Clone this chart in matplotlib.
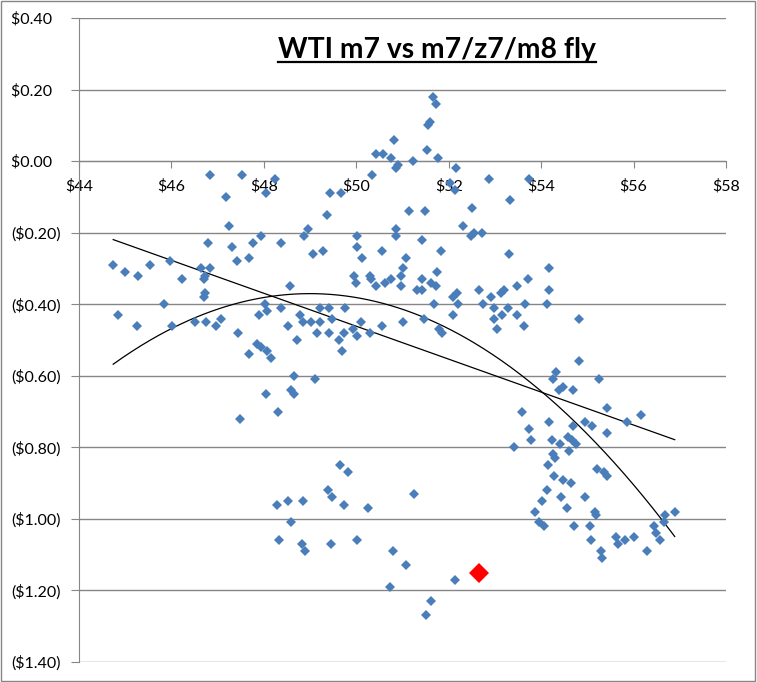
import numpy as np
import matplotlib
matplotlib.use('Agg')
import matplotlib.pyplot as plt
from matplotlib.ticker import FuncFormatter, MultipleLocator
from matplotlib.lines import Line2D
from matplotlib.patches import Rectangle

# WTI m7 price vs m7/z7/m8 butterfly
price = [46.84, 47.53, 48.25, 48.05, 47.19, 47.25, 46.80, 47.30, 47.76, 47.94,
         48.37, 47.41, 47.68, 44.74, 45.00, 45.27, 45.53, 45.97, 46.22, 46.65,
         46.84, 46.73, 46.70, 46.73, 46.70, 48.56, 45.84, 44.85, 45.26, 46.02,
         46.52, 46.75, 46.96, 47.08, 47.43, 47.90, 48.02, 48.07, 48.37, 48.52,
         47.85, 47.93, 48.07, 47.67, 48.16, 48.65, 48.05, 48.58, 48.65, 49.10,
         51.65, 51.73, 51.60, 51.55, 50.82, 51.52, 50.42, 50.57, 50.75, 51.77,
         50.90, 50.86, 51.23, 52.16, 50.33, 52.88, 49.43, 49.68, 52.03, 52.13,
         53.33, 49.37, 51.13, 51.49, 52.50, 52.31, 48.96, 48.87, 50.01, 50.86,
         50.86, 52.48, 52.54, 52.71, 49.27, 49.07, 50.01, 50.12, 50.56, 51.08,
         51.43, 51.84, 53.31, 49.95, 49.99, 50.30, 50.32, 50.43, 50.62, 50.75,
         50.97, 51.02, 50.97, 51.42, 51.31, 51.43, 51.61, 51.74, 51.72, 51.69,
         52.10, 52.17, 52.21, 52.10, 52.66, 52.75, 52.92, 53.13, 53.20, 52.97,
         52.99, 53.15, 53.04, 53.28, 48.78, 48.84, 49.01, 49.21, 49.14, 49.41,
         49.21, 49.42, 49.48, 49.75, 49.63, 49.70, 49.73, 49.92, 50.02, 50.10,
         50.30, 50.56, 51.02, 51.47, 51.79, 51.85, 48.71, 53.73, 54.16, 53.48,
         53.72, 54.18, 53.65, 53.48, 53.62, 54.12, 54.82, 54.82, 54.33, 54.26,
         55.26, 54.47, 54.69, 54.38, 53.59, 55.42, 56.15, 54.18, 54.95, 55.10,
         54.68, 55.85, 53.73, 55.42, 53.77, 54.24, 54.40, 54.58, 54.67, 54.76,
         54.61, 53.42, 54.25, 54.29, 54.15, 55.20, 55.37, 55.42, 54.27, 54.48,
         54.65, 54.12, 54.43, 54.95, 54.02, 54.55, 53.87, 55.17, 55.19, 53.96,
         54.06, 54.72, 55.06, 55.08, 55.61, 55.66, 55.82, 56.00, 55.29, 55.32,
         56.30, 56.44, 56.48, 56.57, 56.67, 56.65, 56.89, 48.30, 47.48, 48.29,
         48.52, 48.58, 48.32, 49.64, 49.81, 49.39, 49.47, 49.73, 50.25, 51.25,
         48.84, 48.82, 48.90, 49.45, 50.02, 50.80, 51.08, 50.73, 52.13, 51.62,
         51.51]
fly = [-0.04, -0.04, -0.05, -0.09, -0.10, -0.18, -0.23, -0.24, -0.23, -0.21,
       -0.23, -0.28, -0.27, -0.29, -0.31, -0.32, -0.29, -0.28, -0.33, -0.30,
       -0.30, -0.32, -0.33, -0.37, -0.38, -0.35, -0.40, -0.43, -0.46, -0.46,
       -0.45, -0.45, -0.46, -0.44, -0.48, -0.43, -0.40, -0.42, -0.41, -0.46,
       -0.51, -0.52, -0.53, -0.54, -0.55, -0.60, -0.65, -0.64, -0.65, -0.61,
       0.18, 0.16, 0.11, 0.10, 0.06, 0.03, 0.02, 0.02, 0.01, 0.01,
       -0.01, -0.02, 0.00, -0.02, -0.04, -0.05, -0.09, -0.09, -0.06, -0.08,
       -0.11, -0.15, -0.14, -0.14, -0.13, -0.18, -0.19, -0.21, -0.21, -0.19,
       -0.21, -0.21, -0.20, -0.20, -0.25, -0.26, -0.24, -0.27, -0.25, -0.27,
       -0.22, -0.25, -0.26, -0.32, -0.34, -0.32, -0.33, -0.35, -0.34, -0.33,
       -0.32, -0.30, -0.35, -0.33, -0.36, -0.36, -0.34, -0.31, -0.35, -0.40,
       -0.38, -0.37, -0.40, -0.43, -0.36, -0.40, -0.38, -0.37, -0.36, -0.41,
       -0.44, -0.43, -0.47, -0.41, -0.43, -0.45, -0.45, -0.45, -0.48, -0.48,
       -0.41, -0.41, -0.44, -0.41, -0.50, -0.53, -0.48, -0.47, -0.49, -0.45,
       -0.48, -0.46, -0.45, -0.44, -0.47, -0.48, -0.50, -0.05, -0.30, -0.35,
       -0.33, -0.36, -0.40, -0.43, -0.46, -0.40, -0.44, -0.56, -0.59, -0.61,
       -0.61, -0.63, -0.64, -0.64, -0.70, -0.69, -0.71, -0.73, -0.73, -0.74,
       -0.74, -0.73, -0.75, -0.76, -0.78, -0.78, -0.79, -0.77, -0.78, -0.79,
       -0.81, -0.80, -0.82, -0.83, -0.85, -0.86, -0.87, -0.88, -0.88, -0.89,
       -0.90, -0.92, -0.94, -0.94, -0.95, -0.97, -0.98, -0.98, -0.99, -1.01,
       -1.02, -1.02, -1.02, -1.06, -1.05, -1.07, -1.06, -1.05, -1.09, -1.11,
       -1.09, -1.02, -1.04, -1.06, -0.99, -1.01, -0.98, -0.70, -0.72, -0.96,
       -0.95, -1.01, -1.06, -0.85, -0.87, -0.92, -0.94, -0.96, -0.97, -0.93,
       -0.95, -1.07, -1.09, -1.07, -1.06, -1.09, -1.13, -1.19, -1.17, -1.23,
       -1.27]

# latest observation, highlighted
last_price = [52.65]
last_fly = [-1.15]

plt.rcParams['font.family'] = ['Lato', 'DejaVu Sans']

grey = '#868686'

fig = plt.figure(figsize=(7.57, 6.82), dpi=100)
ax = fig.add_axes([79/757, 1 - 662/682, (726 - 79)/757, (662 - 18)/682])

ax.plot(price, fly, 'D', color='#4a7ebb', markersize=5.6, markeredgewidth=0, zorder=3)
ax.plot(last_price, last_fly, 'D', color='#ff0000', markersize=10.5, markeredgewidth=0, zorder=4)

# trendlines (linear and 2nd order poly, like Excel)
xs = np.linspace(min(price), max(price), 300)
lin = np.polyfit(price, fly, 1)
quad = np.polyfit(price, fly, 2)
ax.plot(xs, np.polyval(lin, xs), color='black', linewidth=0.9, zorder=2)
ax.plot(xs, np.polyval(quad, xs), color='black', linewidth=0.9, zorder=2)

ax.set_xlim(44, 58)
ax.set_ylim(-1.4, 0.4)
ax.xaxis.set_major_locator(MultipleLocator(2))
ax.yaxis.set_major_locator(MultipleLocator(0.2))


def money(v, pos):
    if v < -1e-9:
        return '(${:.2f})'.format(-v)
    return '${:.2f}\u2007'.format(abs(v))


ax.yaxis.set_major_formatter(FuncFormatter(money))
ax.xaxis.set_major_formatter(FuncFormatter(lambda v, p: '${:.0f}'.format(v)))

ax.spines['bottom'].set_position(('data', 0))
ax.spines['top'].set_visible(False)
ax.spines['right'].set_visible(False)
ax.spines['left'].set_color(grey)
ax.spines['bottom'].set_color(grey)
ax.tick_params(axis='y', direction='out', length=6, color=grey, labelsize=11.5, pad=7)
ax.tick_params(axis='x', direction='out', length=5, color=grey, labelsize=11.5, pad=8)
ax.grid(axis='y', color=grey, linewidth=1)
ax.set_axisbelow(True)

title = fig.text(437/757, 1 - 50/682, 'WTI m7 vs m7/z7/m8 fly', ha='center', va='center',
                 fontsize=20.3, fontweight='bold')
fig.canvas.draw()
bb = title.get_window_extent().transformed(fig.transFigure.inverted())
fig.add_artist(Line2D([bb.x0, bb.x1], [bb.y0 + 0.002, bb.y0 + 0.002], color='black',
                      linewidth=1.6, transform=fig.transFigure))

fig.add_artist(Rectangle((0.001, 0.001), 0.997, 0.997, fill=False, edgecolor=grey,
                         linewidth=1, transform=fig.transFigure))

fig.savefig('out.png', dpi=100)
